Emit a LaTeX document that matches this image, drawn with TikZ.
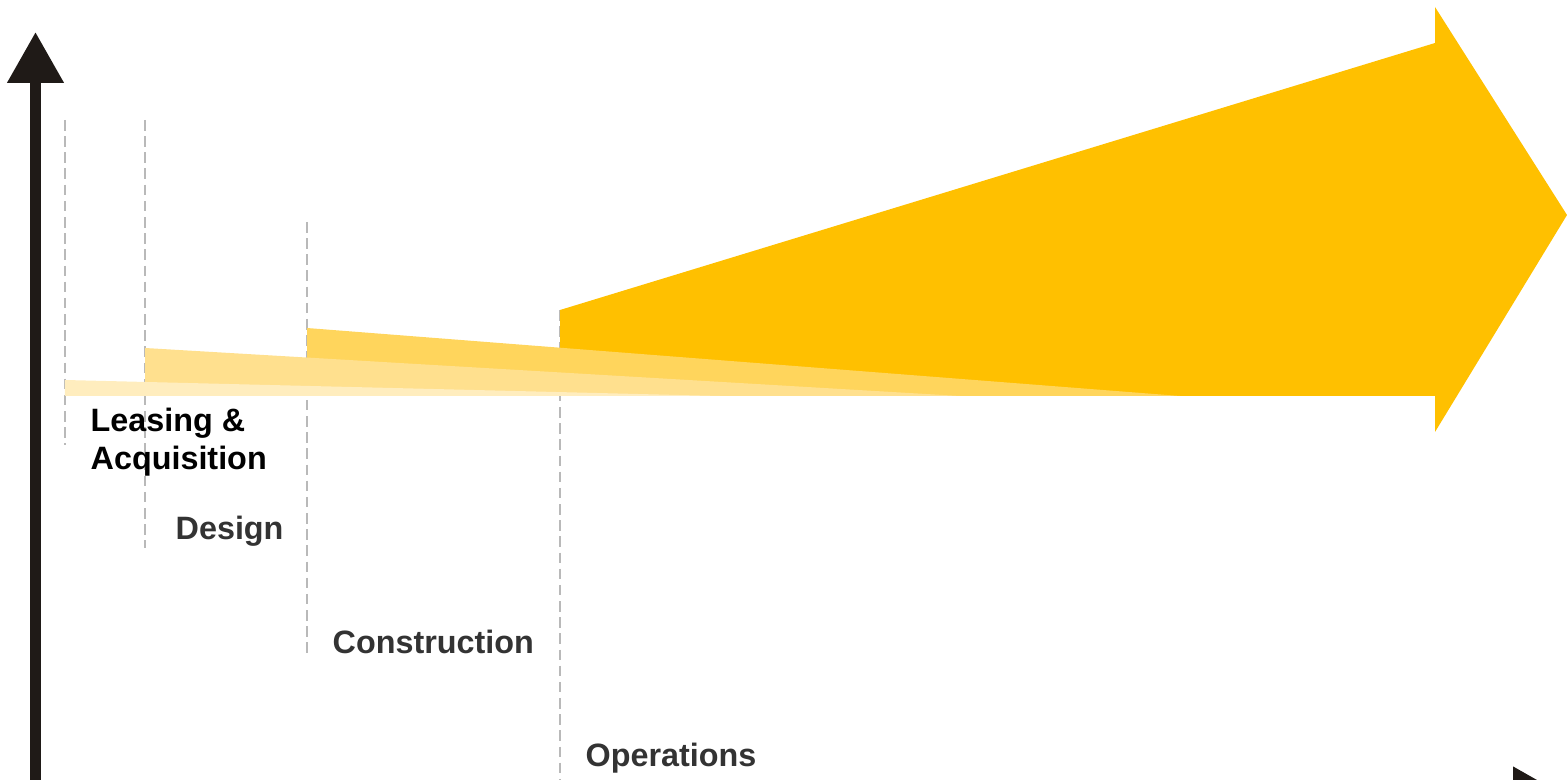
\documentclass[tikz,border=0pt]{standalone}
\usepackage{fontspec}
\setmainfont{Liberation Sans}
\usepackage{tikz}
\usetikzlibrary{arrows.meta}
\definecolor{axisblack}{HTML}{1F1A17}
\definecolor{opsgold}{HTML}{FFC000}
\definecolor{congold}{HTML}{FFD55C}
\definecolor{desgold}{HTML}{FFE08E}
\definecolor{leagold}{HTML}{FFEDBE}
\definecolor{phasegray}{HTML}{333333}

\begin{document}
\begin{tikzpicture}[>=Stealth,
  phase/.style={anchor=base west, inner sep=0pt, font=\bfseries\fontsize{9.2}{10.9}\selectfont, text=phasegray, align=left},
  divider/.style={draw=gray!55, line width=0.55pt, dash pattern=on 3pt off 1.6pt},
  axis/.style={draw=axisblack, line width=3.1pt, -{Triangle[length=0.51cm,width=0.54cm]}}]
  \useasboundingbox (0,0) rectangle (15.67,7.79);
  \clip (0,0) rectangle (15.67,7.79);

  % Phase dividers
  \draw[divider] (0.65,6.59) -- (0.65,3.34);
  \draw[divider] (1.45,6.59) -- (1.45,2.31);
  \draw[divider] (3.07,5.57) -- (3.07,1.24);
  \draw[divider] (5.60,4.69) -- (5.60,0);

  % Operations arrow
  \fill[opsgold] (5.60,3.83) -- (5.60,4.69) -- (14.35,7.36) -- (14.35,7.72)
    -- (15.67,5.64) -- (14.35,3.47) -- (14.35,3.83) -- cycle;
  % Earlier phase wedges
  \fill[congold] (3.07,3.83) -- (3.07,4.51) -- (11.8,3.83) -- cycle;
  \fill[desgold] (1.45,3.83) -- (1.45,4.31) -- (9.6,3.83) -- cycle;
  \fill[leagold] (0.65,3.83) -- (0.65,3.99) -- (7.2,3.83) -- cycle;

  % Axes
  \coordinate (origin) at (0.355,-0.16);
  \coordinate (ytop) at (0.355,7.47);
  \coordinate (xend) at (15.64,-0.16);
  \draw[axis] (origin) -- (ytop);
  \draw[axis] (origin) -- (xend);

  % Phase labels
  \node[phase, text=black] (leasing) at (0.90,3.09) {Leasing \&\\Acquisition};
  \node[phase] (design) at (1.75,2.39) {Design};
  \node[phase] (construction) at (3.32,1.26) {Construction};
  \node[phase] (operations) at (5.85,0.13) {Operations};
\end{tikzpicture}
\end{document}
